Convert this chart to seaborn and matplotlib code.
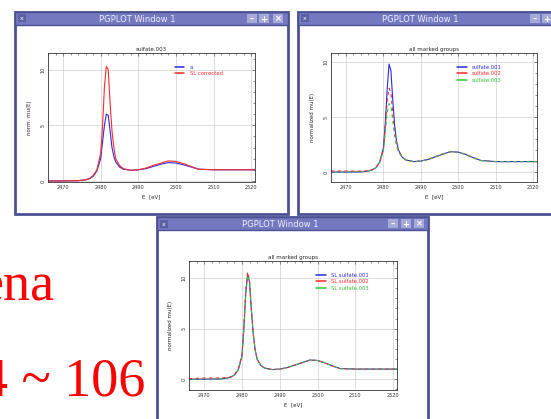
import matplotlib
matplotlib.use("Agg")
import matplotlib.pyplot as plt
from matplotlib.patches import Rectangle
from matplotlib.lines import Line2D
from matplotlib.ticker import MultipleLocator
import seaborn as sns

# ---- data -------------------------------------------------------------
energy = [2466, 2470, 2474, 2476, 2477, 2478, 2479, 2480, 2480.5, 2481,
          2481.5, 2482, 2482.5, 2483, 2483.5, 2484, 2485, 2486, 2488, 2490,
          2492, 2494, 2496, 2498, 2500, 2502, 2504, 2506, 2510, 2515, 2521]

# sulfate.003: raw vs. self-absorption corrected
mu_a = [0, 0, 0.02, 0.1, 0.2, 0.4, 0.9, 2.0, 3.5, 5.0, 6.0, 5.9, 4.5, 3.0,
        2.2, 1.7, 1.25, 1.05, 0.95, 1.0, 1.1, 1.3, 1.5, 1.65, 1.6, 1.45,
        1.25, 1.05, 1.0, 1.0, 1.0]
mu_sl = [0, 0, 0.02, 0.1, 0.2, 0.5, 1.0, 2.5, 5.0, 8.5, 10.3, 10.0, 7.0,
         4.5, 3.0, 2.0, 1.4, 1.1, 0.95, 1.0, 1.15, 1.4, 1.6, 1.8, 1.75,
         1.55, 1.3, 1.05, 1.0, 1.0, 1.0]

# all marked groups, uncorrected
mu_s1 = [0, 0, 0.02, 0.1, 0.2, 0.4, 0.9, 2.2, 4.5, 7.5, 9.8, 9.2, 6.5, 4.2,
         2.8, 2.0, 1.35, 1.1, 0.95, 1.0, 1.15, 1.4, 1.65, 1.85, 1.8, 1.6,
         1.3, 1.05, 0.95, 0.95, 0.95]
mu_s2 = [0.1, 0.1, 0.08, 0.12, 0.2, 0.4, 0.9, 2.0, 4.0, 6.5, 7.6, 7.2, 5.3,
         3.6, 2.5, 1.9, 1.35, 1.1, 0.95, 1.0, 1.15, 1.4, 1.65, 1.85, 1.8,
         1.6, 1.3, 1.05, 0.95, 0.95, 0.95]
mu_s3 = [0, 0, 0.02, 0.1, 0.2, 0.4, 0.9, 1.9, 3.6, 5.4, 6.2, 6.0, 4.6, 3.3,
         2.4, 1.85, 1.35, 1.1, 0.95, 1.0, 1.15, 1.4, 1.65, 1.85, 1.8, 1.6,
         1.3, 1.05, 0.95, 0.95, 0.95]

# all marked groups, corrected
mu_c1 = [0, 0, 0.02, 0.1, 0.2, 0.4, 0.9, 2.3, 5.0, 8.5, 10.4, 9.6, 6.8,
         4.4, 2.9, 2.0, 1.35, 1.1, 0.95, 1.0, 1.15, 1.4, 1.65, 1.9, 1.85,
         1.6, 1.3, 1.05, 1.0, 1.0, 1.0]
mu_c2 = [0.05, 0.12, 0.12, 0.15, 0.22, 0.45, 1.0, 2.4, 5.2, 8.8, 10.6, 9.8,
         6.9, 4.5, 2.9, 2.0, 1.35, 1.1, 0.95, 1.0, 1.15, 1.4, 1.65, 1.9,
         1.85, 1.6, 1.3, 1.05, 1.0, 1.0, 1.0]
mu_c3 = [0, 0, 0.02, 0.1, 0.2, 0.4, 0.9, 2.2, 4.9, 8.3, 10.3, 9.6, 6.8,
         4.4, 2.9, 2.0, 1.35, 1.1, 0.95, 1.0, 1.15, 1.4, 1.65, 1.9, 1.85,
         1.6, 1.3, 1.05, 1.0, 1.0, 1.0]

xticks = [2470, 2480, 2490, 2500, 2510, 2520]

W, H = 551, 419
sns.set_style("white")
plt.rcParams["font.family"] = ["DejaVu Sans"]

fig = plt.figure(figsize=(W / 100, H / 100), dpi=100)
bg = fig.add_axes([0, 0, 1, 1])
bg.set_xlim(0, W)
bg.set_ylim(H, 0)
bg.axis("off")

BAR = "#7479bf"
EDGE = "#4c5196"
BTN = "#a6aad9"
BLUE, RED, GREEN = "#2a2ae6", "#ff2a2a", "#35c435"


def window(x0, y0, x1, y1, title_x, buttons):
    bg.add_patch(Rectangle((x0, y0), x1 - x0, y1 - y0, fc="white",
                           ec=EDGE, lw=2.0, zorder=1))
    bg.add_patch(Rectangle((x0, y0), x1 - x0, 13, fc=BAR, ec=EDGE,
                           lw=1.0, zorder=2))
    bg.add_patch(Rectangle((x0 + 3, y0 + 2.5), 8, 8, fc="#5c61a6",
                           ec="none", zorder=3))
    bg.text(x0 + 7, y0 + 7, "x", color="white", fontsize=4.5,
            ha="center", va="center", zorder=4)
    bg.text(title_x, y0 + 7, "PGPLOT Window 1", color="#eeeeff",
            fontsize=6, ha="center", va="center", zorder=4)
    for bx, glyph in buttons:
        bg.add_patch(Rectangle((bx - 5, y0 + 2), 10, 9, fc=BTN, ec="none",
                               zorder=3))
        bg.text(bx, y0 + 7, glyph, color="white", fontsize=6,
                fontweight="bold", ha="center", va="center", zorder=4)


window(15, 12, 288, 214, 137, [(252, "–"), (264, "+"), (278, "×")])
window(298, 12, 575, 214, 420, [(535, "–"), (547, "+")])
window(157, 217, 428, 440, 280, [(393, "–"), (406, "+"), (419, "×")])

bg.text(55, 300, "ena", color="red", fontsize=39,
        family=["Liberation Serif"], ha="right", va="baseline")
bg.text(145, 395, "4 ~ 106", color="red", fontsize=39,
        family=["Liberation Serif"], ha="right", va="baseline")


def px_axes(x0, y0, x1, y1):
    return fig.add_axes([x0 / W, 1 - y1 / H, (x1 - x0) / W, (y1 - y0) / H])


def style(ax, title, ylabel, ylim, colors):
    ax.set_xlim(2466, 2521)
    ax.set_ylim(*ylim)
    ax.set_xticks(xticks)
    ax.set_xticklabels([str(t) for t in xticks])
    ax.set_yticks([0, 5, 10])
    ax.xaxis.set_minor_locator(MultipleLocator(2))
    ax.yaxis.set_minor_locator(MultipleLocator(1))
    ax.tick_params(which="both", direction="in", top=True, right=True,
                   labelsize=3.6, pad=2, colors="#333333", width=0.4)
    ax.tick_params(which="major", length=2.5)
    ax.tick_params(which="minor", length=1.3)
    for lab in ax.get_yticklabels():
        lab.set_rotation(90)
        lab.set_va("center")
    ax.grid(True, which="major", color="#d0d0d0", lw=0.5)
    ax.set_axisbelow(True)
    for s in ax.spines.values():
        s.set_color("#333333")
        s.set_linewidth(0.6)
    ax.set_title(title, fontsize=4, pad=1.5)
    ax.set_xlabel("E  [eV]", fontsize=4, labelpad=3)
    ax.set_ylabel(ylabel, fontsize=4, labelpad=6)
    _, labels = ax.get_legend_handles_labels()
    proxies = [Line2D([0, 1], [0, 0], color=c, lw=1.1, ls="-")
               for c in colors]
    ax.legend(proxies, labels, loc="upper left",
              bbox_to_anchor=(0.6, 0.93), frameon=False, fontsize=3.8,
              labelcolor=colors, handlelength=1.8,
              handletextpad=1.0, labelspacing=0.3, borderpad=0)


def draw_groups(ax, series):
    styles = [dict(color=BLUE, ls="-"),
              dict(color=RED, ls=(0, (3, 3))),
              dict(color=GREEN, ls=(3, (3, 3)))]
    for (label, vals), st in zip(series, styles):
        sns.lineplot(x=energy, y=vals, ax=ax, lw=0.8, label=label,
                     color=st["color"], linestyle=st["ls"])


ax1 = px_axes(48, 53, 255, 182)
sns.lineplot(x=energy, y=mu_a, ax=ax1, color=BLUE, lw=0.8, label="a")
sns.lineplot(x=energy, y=mu_sl, ax=ax1, color=RED, lw=0.8,
             label="SL corrected")
style(ax1, "sulfate.003", "norm. mu(E)", (-0.1, 11.5), [BLUE, RED])

ax2 = px_axes(331, 53, 537, 182)
draw_groups(ax2, [("sulfate.001", mu_s1), ("sulfate.002", mu_s2),
                  ("sulfate.003", mu_s3)])
style(ax2, "all marked groups", "normalized mu(E)", (-0.9, 10.8),
      [BLUE, RED, GREEN])

ax3 = px_axes(189, 261, 397, 390)
draw_groups(ax3, [("SL sulfate.001", mu_c1), ("SL sulfate.002", mu_c2),
                  ("SL sulfate.003", mu_c3)])
style(ax3, "all marked groups", "normalized mu(E)", (-1.07, 11.7),
      [BLUE, RED, GREEN])

fig.savefig("out.png", dpi=100)
